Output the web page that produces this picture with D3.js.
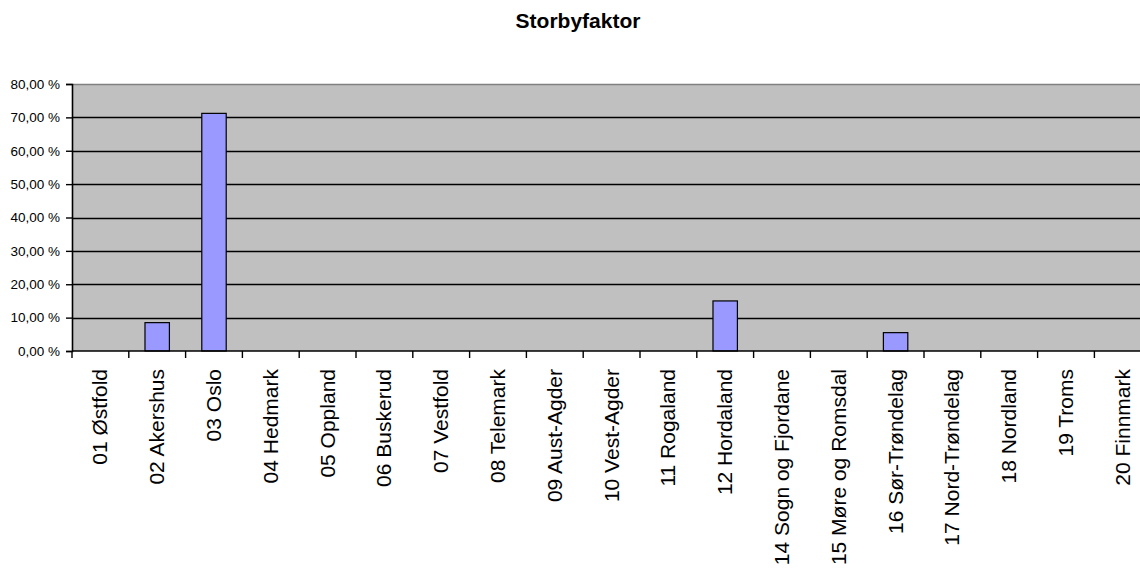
<!DOCTYPE html>
<html>
<head>
<meta charset="utf-8">
<script src="https://cdn.jsdelivr.net/npm/d3@7"></script>
<style>
  html, body { margin: 0; padding: 0; background: #fff; overflow: hidden; }
  svg { display: block; font-family: "Liberation Sans", Arial, sans-serif; }
</style>
</head>
<body>
<svg id="chart" width="1140" height="568"></svg>
<script>
// Storbyfaktor per fylke
const counties = [
  "01 Østfold", "02 Akershus", "03 Oslo", "04 Hedmark", "05 Oppland",
  "06 Buskerud", "07 Vestfold", "08 Telemark", "09 Aust-Agder", "10 Vest-Agder",
  "11 Rogaland", "12 Hordaland", "14 Sogn og Fjordane", "15 Møre og Romsdal",
  "16 Sør-Trøndelag", "17 Nord-Trøndelag", "18 Nordland", "19 Troms", "20 Finnmark"
];
const factorPct = [0, 8.5, 71.2, 0, 0, 0, 0, 0, 0, 0, 0, 15.0, 0, 0, 5.5, 0, 0, 0, 0];
const yTicks = [0, 10, 20, 30, 40, 50, 60, 70, 80];
const title = "Storbyfaktor";

const svg = d3.select("#chart");
const plot = { left: 72, top: 84, bottom: 351, right: 72 + 19 * 56.8 };

const x = d3.scaleBand().domain(counties).range([plot.left, plot.right]).padding(0);
const y = d3.scaleLinear().domain([0, 80]).range([plot.bottom, plot.top]);

const fmt = v => v.toFixed(2).replace(".", ",") + " %";

// plot background
svg.append("rect")
  .attr("x", plot.left).attr("y", plot.top)
  .attr("width", plot.right - plot.left).attr("height", plot.bottom - plot.top)
  .attr("fill", "#c0c0c0");

// top border
svg.append("line")
  .attr("x1", plot.left).attr("x2", plot.right)
  .attr("y1", plot.top + 0.5).attr("y2", plot.top + 0.5)
  .attr("stroke", "#808080").attr("stroke-width", 1.5);

// horizontal gridlines
svg.append("g")
  .selectAll("line")
  .data(yTicks.filter(t => t > 0 && t < 80))
  .join("line")
  .attr("x1", plot.left).attr("x2", plot.right)
  .attr("y1", d => Math.round(y(d)) + 0.5).attr("y2", d => Math.round(y(d)) + 0.5)
  .attr("stroke", "#000").attr("stroke-width", 1.3);

// bars
const barW = x.bandwidth() * 0.43;
svg.append("g")
  .selectAll("rect")
  .data(counties.map((c, i) => ({ c, v: factorPct[i] })).filter(d => d.v > 0))
  .join("rect")
  .attr("x", d => x(d.c) + (x.bandwidth() - barW) / 2)
  .attr("y", d => y(d.v))
  .attr("width", barW)
  .attr("height", d => y(0) - y(d.v))
  .attr("fill", "#9999ff")
  .attr("stroke", "#000")
  .attr("stroke-width", 1.2);

// y axis
const yAxis = svg.append("g")
  .attr("transform", `translate(${plot.left},0)`)
  .call(d3.axisLeft(y).tickValues(yTicks).tickFormat(fmt).tickSize(6).tickPadding(6));
yAxis.select(".domain").attr("stroke", "#000").attr("stroke-width", 1.6);
yAxis.selectAll(".tick line").attr("stroke", "#000").attr("stroke-width", 1.4);
yAxis.selectAll(".tick text")
  .attr("font-size", "13.5px")
  .attr("font-family", "'Liberation Sans', Arial, sans-serif")
  .attr("fill", "#000");

// x axis baseline and category boundary ticks
svg.append("line")
  .attr("x1", plot.left).attr("x2", plot.right)
  .attr("y1", plot.bottom).attr("y2", plot.bottom)
  .attr("stroke", "#000").attr("stroke-width", 1.6);

const boundaries = counties.map(c => x(c) + x.bandwidth()).concat([x(counties[0])]);
svg.append("g")
  .selectAll("line")
  .data(boundaries)
  .join("line")
  .attr("x1", d => d).attr("x2", d => d)
  .attr("y1", plot.bottom).attr("y2", plot.bottom + 7)
  .attr("stroke", "#000").attr("stroke-width", 1.4);

// rotated category labels
svg.append("g")
  .selectAll("text")
  .data(counties)
  .join("text")
  .attr("transform", d => `translate(${x(d) + x.bandwidth() / 2},${plot.bottom + 18}) rotate(-90)`)
  .attr("text-anchor", "end")
  .attr("dy", "0.33em")
  .attr("font-size", "21px")
  .attr("fill", "#000")
  .text(d => d);

// title
svg.append("text")
  .attr("x", 578).attr("y", 28)
  .attr("text-anchor", "middle")
  .attr("font-size", "21px")
  .attr("font-weight", "bold")
  .attr("fill", "#000")
  .text(title);
</script>
</body>
</html>
